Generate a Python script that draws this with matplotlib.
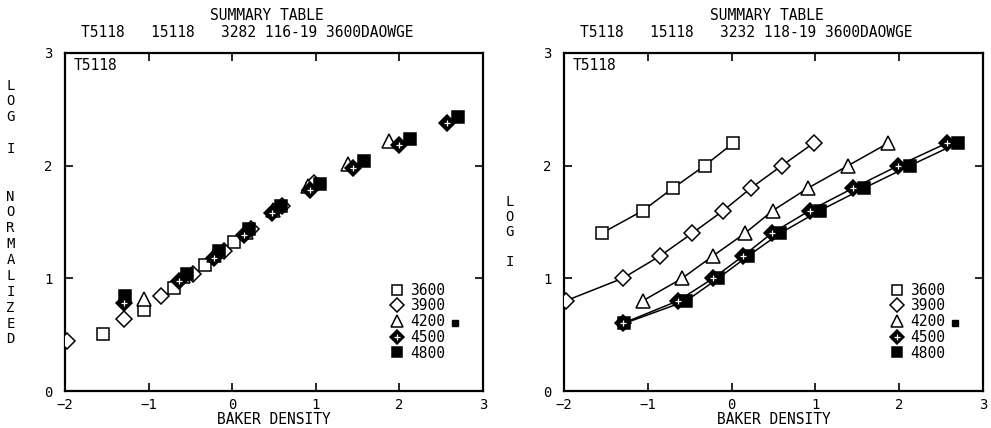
# Summary table: log I vs Baker density, raw and normalized
import numpy as np
import matplotlib.pyplot as plt
from matplotlib.lines import Line2D

plt.rcParams['font.family'] = ['DejaVu Sans Mono']

labels = ['3600', '3900', '4200', '4500', '4800']

# right panel (LOG I)
x3600 = [-1.55, -1.06, -0.70, -0.32, 0.02]
y3600 = [1.4, 1.6, 1.8, 2.0, 2.2]
x3900 = [-1.98, -1.30, -0.85, -0.47, -0.10, 0.23, 0.60, 0.98]
y3900 = [0.8, 1.0, 1.2, 1.4, 1.6, 1.8, 2.0, 2.2]
x4200 = [-1.06, -0.59, -0.22, 0.16, 0.49, 0.91, 1.39, 1.87]
y4200 = [0.8, 1.0, 1.2, 1.4, 1.6, 1.8, 2.0, 2.2]
x4500 = [-1.30, -0.64, -0.22, 0.14, 0.48, 0.93, 1.45, 1.99, 2.57]
y4500 = [0.6, 0.8, 1.0, 1.2, 1.4, 1.6, 1.8, 2.0, 2.2]
x4800 = [-1.28, -0.54, -0.16, 0.20, 0.58, 1.05, 1.58, 2.13, 2.70]
y4800 = [0.6, 0.8, 1.0, 1.2, 1.4, 1.6, 1.8, 2.0, 2.2]

# left panel (LOG I NORMALIZED), same densities
n3600 = [0.51, 0.72, 0.91, 1.12, 1.32]
n3900 = [0.44, 0.64, 0.84, 1.04, 1.24, 1.44, 1.64, 1.85]
n4200 = [0.82, 1.02, 1.21, 1.41, 1.61, 1.82, 2.01, 2.22]
n4500 = [0.78, 0.98, 1.18, 1.38, 1.58, 1.78, 1.98, 2.18, 2.38]
n4800 = [0.84, 1.04, 1.24, 1.44, 1.64, 1.84, 2.04, 2.24, 2.43]

xs = [x3600, x3900, x4200, x4500, x4800]
raw = [y3600, y3900, y4200, y4500, y4800]
norm = [n3600, n3900, n4200, n4500, n4800]

styles = [
    dict(marker='s', ms=8, mfc='white'),
    dict(marker='D', ms=8.5, mfc='white'),
    dict(marker='^', ms=9.5, mfc='white'),
    dict(marker='D', ms=8, mfc='black'),
    dict(marker='s', ms=8, mfc='black'),
]

fig = plt.figure(figsize=(9.91, 4.28), dpi=100)
axL = fig.add_axes([0.0656, 0.0864, 0.4218, 0.790])
axR = fig.add_axes([0.5691, 0.0864, 0.4228, 0.790])

def draw(ax, ys, lines):
    for i in range(5):
        st = styles[i]
        if lines:
            ax.plot(xs[i], ys[i], color='black', lw=1.1, zorder=2)
        ax.plot(xs[i], ys[i], linestyle='none', marker=st['marker'], ms=st['ms'],
                mfc=st['mfc'], mec='black', mew=1.1, zorder=3)
        if i == 3:
            ax.plot(xs[i], ys[i], linestyle='none', marker='+', ms=4.5,
                    mec='white', mew=0.9, zorder=4)

def frame(ax, subtitle, ylab, ylab_y, ls):
    ax.set_xlim(-2, 3)
    ax.set_ylim(0, 3)
    ax.set_xticks([-2, -1, 0, 1, 2, 3])
    ax.set_yticks([0, 1, 2, 3])
    ax.tick_params(direction='in', length=6, width=1.2, top=True, right=True,
                   labelsize=10, pad=5)
    ax.tick_params(axis='y', pad=9)
    for s in ax.spines.values():
        s.set_linewidth(1.6)
    ax.set_xlabel('BAKER DENSITY', fontsize=10.5, labelpad=0)
    ax.text(0.484, 1.112, 'SUMMARY TABLE', transform=ax.transAxes,
            ha='center', va='center', fontsize=10.5)
    ax.text(0.436, 1.059, subtitle, transform=ax.transAxes,
            ha='center', va='center', fontsize=10.5)
    ax.text(0.02, 0.985, 'T5118', transform=ax.transAxes, ha='left', va='top',
            fontsize=10.5)
    handles = []
    for i in range(5):
        st = styles[i]
        h = Line2D([], [], linestyle='none', marker=st['marker'], ms=st['ms'] * 0.85,
                   mfc=st['mfc'], mec='black', mew=1.1)
        if i == 3:
            h = (h, Line2D([], [], linestyle='none', marker='+', ms=4,
                           mec='white', mew=0.9))
        handles.append(h)
    ax.legend(handles, labels, loc='lower right', bbox_to_anchor=(0.91, 0.09),
              frameon=False, fontsize=10.5, labelspacing=0.05, handlelength=1.0,
              handletextpad=0.4, borderpad=0, borderaxespad=0)
    ax.plot([0.933], [0.201], marker='s', ms=5, color='black',
            transform=ax.transAxes, clip_on=False)
    ax.text(-0.13, ylab_y, ylab, transform=ax.transAxes, ha='center', va='center',
            fontsize=10, linespacing=ls)

draw(axL, norm, False)
draw(axR, raw, True)
frame(axL, 'T5118   15118   3282 116-19 3600DAOWGE',
      'L\nO\nG\n\nI\n\n\nN\nO\nR\nM\nA\nL\nI\nZ\nE\nD', 0.528, 1.17)
frame(axR, 'T5118   15118   3232 118-19 3600DAOWGE', 'L\nO\nG\n\nI', 0.47, 1.08)

fig.savefig('out.png', dpi=100)
